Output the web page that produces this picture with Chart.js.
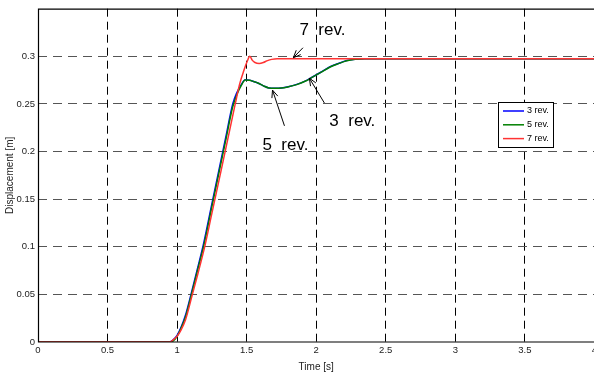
<!DOCTYPE html>
<html>
<head>
<meta charset="utf-8">
<script src="https://cdn.jsdelivr.net/npm/chart.js@4/dist/chart.umd.min.js"></script>
<style>
    html, body { margin: 0; padding: 0; background: #fff; }
    #wrap { width: 594px; height: 374px; overflow: hidden; position: relative; }
    #chart { display: block; }
</style>
</head>
<body>
<div id="wrap"><canvas id="chart" width="600" height="374"></canvas></div>
<script>
// Displacement response for different rev counts
const time3 = [0, 0.945, 0.97, 1.0, 1.03, 1.06, 1.1, 1.15, 1.19, 1.25, 1.3, 1.35, 1.4, 1.43, 1.46, 1.49, 1.52, 1.55, 1.58, 1.62, 1.66, 1.7, 1.75, 1.8, 1.86, 1.92, 1.97, 2.03, 2.1, 2.16, 2.22, 2.28, 2.35, 4.0];
const disp3 = [0, 0, 0.002, 0.007, 0.016, 0.028, 0.05, 0.079, 0.103, 0.145, 0.18, 0.215, 0.25, 0.262, 0.27, 0.2755, 0.275, 0.2735, 0.272, 0.269, 0.2668, 0.2665, 0.2667, 0.268, 0.2705, 0.274, 0.278, 0.283, 0.289, 0.2925, 0.2955, 0.297, 0.2975, 0.2975];

const time5 = time3;
const disp5 = [0, 0, 0.001, 0.006, 0.015, 0.026, 0.048, 0.077, 0.1, 0.142, 0.177, 0.212, 0.247, 0.26, 0.269, 0.275, 0.2748, 0.2735, 0.272, 0.269, 0.2668, 0.2665, 0.2667, 0.268, 0.2703, 0.2738, 0.2778, 0.2828, 0.2888, 0.2923, 0.2953, 0.2968, 0.2974, 0.2974];

const time7 = [0, 0.947, 0.97, 1.0, 1.03, 1.06, 1.11, 1.15, 1.2, 1.25, 1.3, 1.35, 1.418, 1.45, 1.48, 1.505, 1.523, 1.54, 1.56, 1.59, 1.62, 1.65, 1.68, 1.72, 4.0];
const disp7 = [0, 0, 0.002, 0.006, 0.013, 0.023, 0.05, 0.072, 0.101, 0.135, 0.169, 0.203, 0.25, 0.271, 0.285, 0.295, 0.3, 0.296, 0.2935, 0.2925, 0.2935, 0.2955, 0.2968, 0.2975, 0.2975];

const seriesLabels = ['3 rev.', '5 rev.', '7 rev.'];
const xTicks = { min: 0, max: 4, step: 0.5 };
const yTicks = { min: 0, max: 0.35, step: 0.05 };

// text callouts: [label, text x, text y, arrow from x, from y, to x, to y] in data units
const callouts = [
    ['7 rev.', 2.045, 0.327, 1.905, 0.309, 1.836, 0.2985],
    ['3 rev.', 2.26, 0.232, 2.059, 0.251, 1.951, 0.277],
    ['5 rev.', 1.779, 0.207, 1.772, 0.227, 1.686, 0.2645]
];

function toPoints(xs, ys) {
    return xs.map((x, i) => ({ x: x, y: ys[i] }));
}

const FONT = '"Liberation Sans", Arial, sans-serif';

const framePlugin = {
    id: 'frame',
    afterDatasetsDraw(chart) {
        const ctx = chart.ctx;
        const a = chart.chartArea;
        const xs = chart.scales.x, ys = chart.scales.y;
        ctx.save();

        // axes box (left, bottom, top)
        ctx.strokeStyle = '#000';
        ctx.lineWidth = 1.2;
        ctx.beginPath();
        ctx.moveTo(a.right, a.top + 0.5);
        ctx.lineTo(a.left + 0.5, a.top + 0.5);
        ctx.lineTo(a.left + 0.5, a.bottom);
        ctx.lineTo(a.right, a.bottom);
        ctx.stroke();

        // callouts
        ctx.fillStyle = '#000';
        ctx.font = '17px ' + FONT;
        ctx.textAlign = 'center';
        ctx.textBaseline = 'middle';
        ctx.lineWidth = 1;
        callouts.forEach(c => {
            ctx.fillText(c[0].replace(' ', '  '), xs.getPixelForValue(c[1]), ys.getPixelForValue(c[2]));
            const x1 = xs.getPixelForValue(c[3]), y1 = ys.getPixelForValue(c[4]);
            const x2 = xs.getPixelForValue(c[5]), y2 = ys.getPixelForValue(c[6]);
            const ang = Math.atan2(y2 - y1, x2 - x1);
            ctx.beginPath();
            ctx.moveTo(x1, y1);
            ctx.lineTo(x2, y2);
            ctx.moveTo(x2 - 8 * Math.cos(ang - 0.4), y2 - 8 * Math.sin(ang - 0.4));
            ctx.lineTo(x2, y2);
            ctx.lineTo(x2 - 8 * Math.cos(ang + 0.4), y2 - 8 * Math.sin(ang + 0.4));
            ctx.stroke();
        });

        // legend box
        const lx = 498, ly = 102, lw = 55, lh = 45;
        ctx.fillStyle = '#fff';
        ctx.fillRect(lx, ly, lw, lh);
        ctx.strokeStyle = '#000';
        ctx.lineWidth = 1;
        ctx.strokeRect(lx + 0.5, ly + 0.5, lw, lh);
        ctx.font = '9px ' + FONT;
        ctx.textAlign = 'left';
        chart.data.datasets.forEach((ds, i) => {
            const y = ly + 9 + i * 13.8;
            ctx.strokeStyle = ds.borderColor;
            ctx.lineWidth = 1.5;
            ctx.beginPath();
            ctx.moveTo(lx + 5, y);
            ctx.lineTo(lx + 26, y);
            ctx.stroke();
            ctx.fillStyle = '#000';
            ctx.fillText(ds.label, lx + 29, y);
        });
        ctx.restore();
    }
};

function lineSet(label, xs, ys, color, order) {
    return {
        label: label,
        data: toPoints(xs, ys),
        borderColor: color,
        borderWidth: 1.5,
        pointRadius: 0,
        cubicInterpolationMode: 'monotone',
        fill: false,
        order: order
    };
}

new Chart(document.getElementById('chart'), {
    type: 'line',
    data: {
        datasets: [
            lineSet(seriesLabels[0], time3, disp3, '#0000ff', 2),
            lineSet(seriesLabels[1], time5, disp5, '#008000', 1),
            lineSet(seriesLabels[2], time7, disp7, '#ff3333', 0)
        ]
    },
    options: {
        responsive: false,
        animation: false,
        layout: { padding: { top: 7, right: 4, left: 0, bottom: 0 } },
        plugins: {
            legend: { display: false },
            tooltip: { enabled: false }
        },
        scales: {
            x: {
                type: 'linear',
                min: xTicks.min,
                max: xTicks.max,
                afterFit: s => { s.height = 32; },
                ticks: {
                    stepSize: xTicks.step,
                    padding: 3,
                    color: '#222',
                    font: { family: FONT, size: 9.5 },
                    maxRotation: 0,
                    callback: v => String(Number(v.toFixed(2)))
                },
                grid: {
                    drawTicks: false,
                    color: c => (c.tick.value <= 0 || c.tick.value >= xTicks.max) ? 'rgba(0,0,0,0)' : '#000',
                    lineWidth: 1
                },
                border: { display: false, dash: [8, 5] },
                title: {
                    display: true,
                    text: 'Time [s]',
                    color: '#222',
                    font: { family: FONT, size: 10 },
                    padding: { top: 0, bottom: 1 }
                }
            },
            y: {
                min: yTicks.min,
                max: yTicks.max,
                afterFit: s => { s.width = 38; },
                ticks: {
                    stepSize: yTicks.step,
                    padding: 3,
                    color: '#222',
                    font: { family: FONT, size: 9.5 },
                    callback: v => v >= yTicks.max - 1e-9 ? '' : String(Number(v.toFixed(2)))
                },
                grid: {
                    drawTicks: false,
                    color: c => (c.tick.value <= 0 || c.tick.value >= yTicks.max - 1e-9) ? 'rgba(0,0,0,0)' : '#555',
                    lineWidth: 1
                },
                border: { display: false, dash: [9, 6] },
                title: {
                    display: true,
                    text: 'Displacement [m]',
                    color: '#222',
                    font: { family: FONT, size: 10 },
                    padding: { top: 4, bottom: 0 }
                }
            }
        }
    },
    plugins: [framePlugin]
});
</script>
</body>
</html>
